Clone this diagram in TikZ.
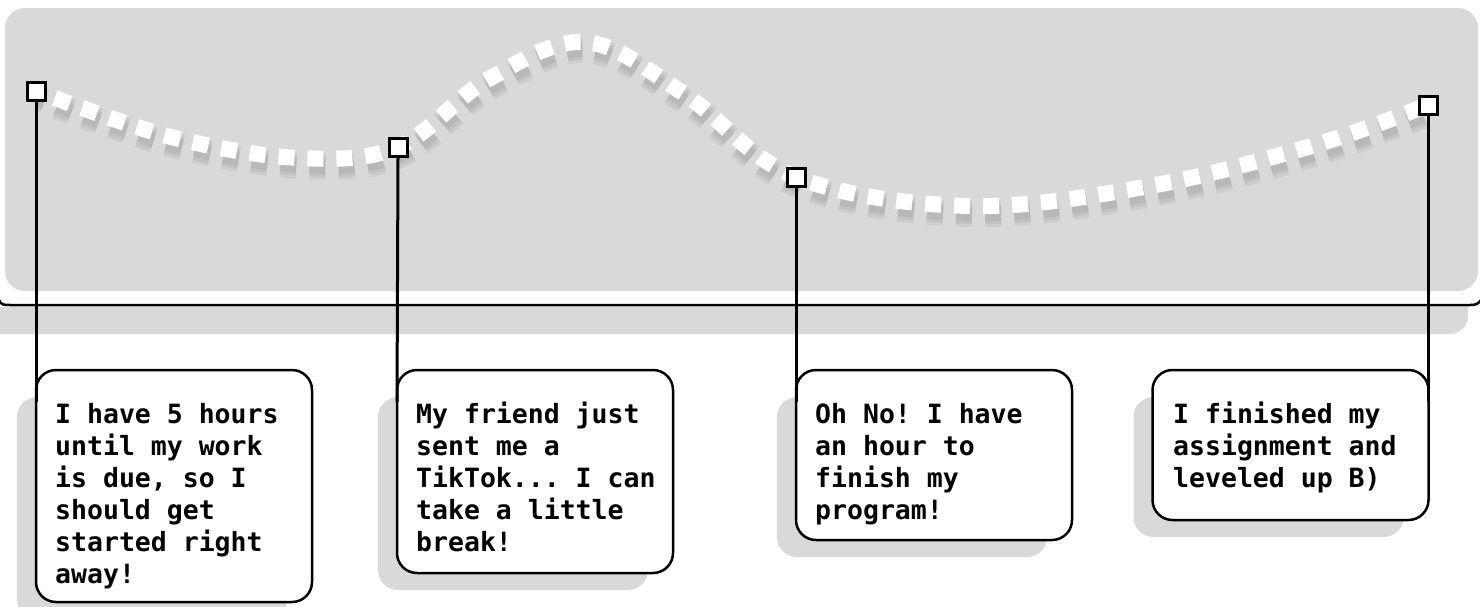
\documentclass[tikz,border=0pt]{standalone}
\usepackage{fontspec}
\setmonofont{DejaVu Sans Mono}
\usetikzlibrary{calc}
\pgfdeclarelayer{bg}
\pgfsetlayers{bg,main}
\definecolor{panel}{HTML}{D9D9D9}
\begin{document}
\begin{tikzpicture}[x=1pt,y=-1pt,
  box/.style={draw=black, line width=2.5pt, fill=white, rounded corners=20pt,
    inner sep=0pt, outer sep=0pt, minimum width=276pt, anchor=north west},
  txt/.style={anchor=north west, inner sep=0pt, align=left,
    font=\fontsize{26.5}{32}\selectfont\ttfamily\bfseries},
  marker/.style={draw=black, line width=3pt, fill=white, minimum size=18pt, inner sep=0pt},
  conn/.style={line width=3pt, draw=black},
  boxshadow/.style={fill=panel, rounded corners=20pt},
  dashline/.style={line width=16pt, dash pattern=on 16pt off 13pt, dash phase=9pt}
]
\useasboundingbox (0,0) rectangle (1480,606);
\def\curvepts{(36,91) (171,137) (300,158) (398,147) (487,80) (585,42) (683,93) (796,177) (969,206) (1150,186) (1315,145) (1428,105)}

\begin{pgfonlayer}{bg}
  \fill[panel, rounded corners=20pt] (5,8) rectangle (1478,291);
  \fill[panel] (-30,307) -- (1468,307) -- (1468,316) .. controls (1468,326) and (1460,334) .. (1450,334) -- (-30,334) -- cycle;
\end{pgfonlayer}

% timeline
\draw[line width=2.5pt] (-1,300) .. controls (1,305) and (4,305) .. (10,305) -- (1470,305) .. controls (1476,305) and (1478,304) .. (1481,300);

% curve shadow
\begin{scope}[shift={(2,8)}]
  \foreach \w in {26,20,14}{
    \draw[dashline, line width=\w pt, black, opacity=0.05] plot[smooth, tension=0.6] coordinates {(36,91) (171,137) (300,158) (398,147) (487,80) (585,42) (683,93) (796,177) (969,206) (1150,186) (1315,145) (1428,105)};
  }
\end{scope}
% curve
\draw[dashline, white] plot[smooth, tension=0.6] coordinates {(36,91) (171,137) (300,158) (398,147) (487,80) (585,42) (683,93) (796,177) (969,206) (1150,186) (1315,145) (1428,105)};

% markers
\node[marker] (m1) at (36,91.5) {};
\node[marker] (m2) at (398,147.5) {};
\node[marker] (m3) at (796,177) {};
\node[marker] (m4) at (1428.5,105) {};

% boxes
\node[box, minimum height=232pt] (b1) at (36,370) {};
\node[box, minimum height=203pt] (b2) at (397,370) {};
\node[box, minimum height=170pt] (b3) at (796,370) {};
\node[box, minimum height=150pt] (b4) at (1152.5,370) {};

\begin{pgfonlayer}{bg}
  \foreach \b in {b1,b2,b3,b4}{
    \fill[boxshadow] ($(\b.north west)+(-19,27)$) rectangle ($(\b.south east)+(-25,17)$);
  }
\end{pgfonlayer}

% connectors
\draw[conn] (m1.south) -- ($(b1.north west)+(0,32)$);
\draw[conn] (m2.south) -- ($(b2.north west)+(0,32)$);
\draw[conn] (m3.south) -- ($(b3.north west)+(0,32)$);
\draw[conn] (m4.south) -- ($(b4.north east)+(0,32)$);

% texts
\node[txt] (t1) at (55,399) {\rule{0pt}{24pt}I have 5 hours\\until my work\\is due, so I\\should get\\started right\\away!};
\node[txt] (t2) at (416,399) {\rule{0pt}{24pt}My friend just\\sent me a\\TikTok... I can\\take a little\\break!};
\node[txt] (t3) at (815,399) {\rule{0pt}{24pt}Oh No! I have\\an hour to\\finish my\\program!};
\node[txt] (t4) at (1173,399) {\rule{0pt}{24pt}I finished my\\assignment and\\leveled up B)};
\end{tikzpicture}
\end{document}
